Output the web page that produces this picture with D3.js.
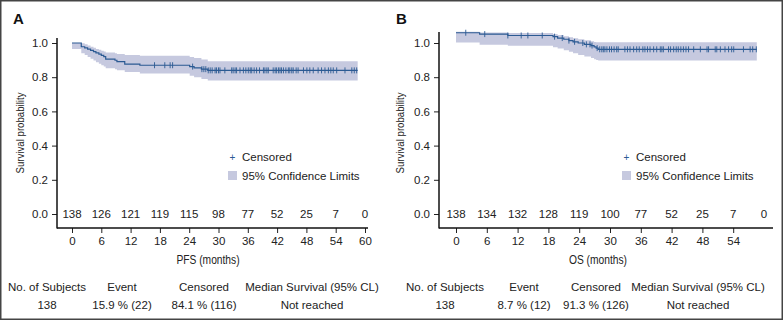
<!DOCTYPE html>
<html><head><meta charset="utf-8">
<script src="https://cdn.jsdelivr.net/npm/d3@7"></script>
<style>
body{margin:0;background:#fff;}
svg{display:block;font-family:"Liberation Sans",Arial,Helvetica,sans-serif;}
</style></head>
<body>
<svg id="c" width="783" height="321"></svg>
<script>
// ---------- DATA ----------
const xTicksA = [0,6,12,18,24,30,36,42,48,54,60];
const xTicksB = [0,6,12,18,24,30,36,42,48,54];
const riskTimes = [0,6,12,18,24,30,36,42,48,54,60];
const atRiskA = [138,126,121,119,115,98,77,52,25,7,0];
const atRiskB = [138,134,132,128,119,100,77,52,25,7,0];
const yTicks = [0,0.2,0.4,0.6,0.8,1.0];

// PFS Kaplan-Meier steps (time, survival)
const pfsTime = [0,1.9,2.6,3.2,3.8,4.4,4.9,5.5,6.0,6.5,6.9,8.8,9.2,10.8,13.9,24.1,25.0,26.5,27.8,58.5];
const pfsSurv = [1.0,0.978,0.971,0.964,0.957,0.949,0.942,0.935,0.928,0.920,0.906,0.899,0.891,0.877,0.870,0.862,0.855,0.847,0.840,0.840];
const pfsLower = [0.965,0.940,0.930,0.918,0.908,0.898,0.888,0.878,0.870,0.862,0.852,0.846,0.840,0.830,0.822,0.808,0.800,0.790,0.780,0.780];
const pfsUpper = [1.0,0.998,0.993,0.985,0.978,0.972,0.965,0.960,0.955,0.950,0.945,0.940,0.936,0.930,0.925,0.918,0.912,0.903,0.894,0.894];
const pfsCensor = [16.9,19.0,20.1,20.6,24.7,26.6,27.0,27.4,27.9,28.3,28.7,29.3,29.6,30.0,30.3,31.3,32.7,33.0,33.4,33.7,34.4,35.1,35.6,36.1,36.5,36.8,37.3,37.8,38.4,39.2,39.5,39.9,40.2,41.2,41.6,41.9,42.3,42.6,42.9,43.3,43.8,44.3,44.6,45.0,45.3,45.9,46.3,47.4,48.1,48.7,49.4,50.4,51.1,51.8,52.5,53.0,53.5,54.2,55.9,57.3,57.8,58.3];

// OS Kaplan-Meier steps (time, survival)
const osTime = [0,4.6,10.1,18.9,19.8,21.0,22.0,22.8,23.8,25.0,26.3,26.9,27.3,27.7,58.6];
const osSurv = [1.06,1.052,1.044,1.037,1.029,1.022,1.014,1.007,1.000,0.992,0.985,0.977,0.970,0.963,0.963];
const osLower = [1.003,0.990,0.984,0.975,0.968,0.958,0.949,0.940,0.930,0.921,0.912,0.905,0.900,0.897,0.897];
const osUpper = [1.066,1.062,1.058,1.052,1.047,1.040,1.034,1.028,1.022,1.016,1.010,1.006,1.005,1.004,1.004];
const osCensor = [1.9,5.6,10.1,12.7,14.0,16.8,19.2,20.7,22.0,23.1,24.7,25.4,26.1,26.5,27.5,28.0,28.4,28.7,29.0,29.4,29.9,30.3,30.8,31.3,31.6,32.9,33.4,33.9,34.6,35.2,35.7,36.4,36.8,37.3,37.8,38.5,39.1,39.8,40.1,40.4,41.4,41.8,42.4,42.9,43.3,43.8,44.3,44.8,45.3,46.3,47.6,48.9,49.2,50.5,50.8,51.5,52.4,53.1,53.7,54.1,56.0,57.3,57.8,58.5];

const tableHeaders = ["No. of Subjects","Event","Censored","Median Survival (95% CL)"];
const tableA = ["138","15.9 % (22)","84.1 % (116)","Not reached"];
const tableB = ["138","8.7 % (12)","91.3 % (126)","Not reached"];

// ---------- DRAW ----------
const svg = d3.select("#c");
const LINE = "#2b5a93", BAND = "#c6c9df", TXT = "#222";

svg.append("rect").attr("x",0.75).attr("y",0.75).attr("width",781.5).attr("height",318.5)
  .attr("fill","none").attr("stroke","#444").attr("stroke-width",1.5);

function panel(o){
  const g = svg.append("g");
  const x = d3.scaleLinear().domain([0,60]).range([o.x0,o.x60]);
  const y = d3.scaleLinear().domain([0,1]).range([214,43]);

  g.append("text").text(o.letter).attr("x",o.letterX).attr("y",24)
    .attr("font-size",15).attr("font-weight","bold").attr("fill","#111");

  const rows = o.time.map((t,i)=>({t,s:o.surv[i],lo:o.lower[i],hi:o.upper[i]}));
  g.append("path").datum(rows)
    .attr("d", d3.area().curve(d3.curveStepAfter).x(d=>x(d.t)).y0(d=>y(d.lo)).y1(d=>y(d.hi)))
    .attr("fill",BAND);
  g.append("path").datum(rows)
    .attr("d", d3.line().curve(d3.curveStepAfter).x(d=>x(d.t)).y(d=>y(d.s)))
    .attr("fill","none").attr("stroke",LINE).attr("stroke-width",1.2);
  const bis = d3.bisector(d=>d.t).right;
  g.append("g").selectAll("line").data(o.censor).join("line")
    .attr("x1",d=>x(d)).attr("x2",d=>x(d))
    .attr("y1",d=>y(rows[Math.max(0,bis(rows,d)-1)].s)-3)
    .attr("y2",d=>y(rows[Math.max(0,bis(rows,d)-1)].s)+3)
    .attr("stroke",LINE).attr("stroke-width",0.9);

  const ya = g.append("g").attr("transform",`translate(${o.axX},0)`)
    .call(d3.axisLeft(y).tickValues(yTicks).tickFormat(d3.format(".1f")).tickSize(5).tickPadding(4).tickSizeOuter(0));
  ya.select(".domain").remove();
  ya.selectAll("text").attr("font-size",11.5).attr("fill",TXT).attr("font-family","Liberation Sans, Arial, sans-serif");
  ya.selectAll("line").attr("stroke","#222");
  g.append("line").attr("x1",o.axX).attr("x2",o.axX).attr("y1",o.yTop).attr("y2",228.5)
    .attr("stroke","#111").attr("stroke-width",1.5);

  const xa = g.append("g").attr("transform","translate(0,228)")
    .call(d3.axisBottom(x).tickValues(o.xTicks).tickSize(5).tickPadding(4).tickSizeOuter(0));
  xa.select(".domain").remove();
  xa.selectAll("text").attr("font-size",11.5).attr("fill",TXT).attr("font-family","Liberation Sans, Arial, sans-serif");
  xa.selectAll("line").attr("stroke","#222");
  g.append("line").attr("x1",o.axX).attr("x2",o.xEnd).attr("y1",228).attr("y2",228)
    .attr("stroke","#111").attr("stroke-width",1.5);

  g.append("g").selectAll("text").data(o.risk).join("text")
    .attr("x",(d,i)=>x(riskTimes[i])).attr("y",218).attr("text-anchor","middle")
    .attr("font-size",11.5).attr("fill",TXT).text(d=>d);

  g.append("text").text(o.xTitle)
    .attr("transform",`translate(${o.xTitleX},264) scale(0.82,1)`)
    .attr("text-anchor","middle").attr("font-size",12.5).attr("fill",TXT);
  g.append("text").text("Survival probability")
    .attr("transform",`translate(${o.yTitleX},133) rotate(-90) scale(0.84,1)`)
    .attr("text-anchor","middle").attr("font-size",11.5).attr("fill",TXT);

  g.append("text").text("+").attr("x",o.legX+4.5).attr("y",161).attr("text-anchor","middle")
    .attr("font-size",10).attr("fill",LINE);
  g.append("text").text("Censored").attr("x",o.legX+14).attr("y",161)
    .attr("font-size",11.5).attr("fill",TXT);
  g.append("rect").attr("x",o.legX).attr("y",171).attr("width",9).attr("height",9).attr("fill",BAND);
  g.append("text").text("95% Confidence Limits").attr("x",o.legX+14).attr("y",179.5)
    .attr("font-size",11.5).attr("fill",TXT);

  o.cols.forEach((cx,i)=>{
    g.append("text").text(tableHeaders[i]).attr("x",cx).attr("y",291)
      .attr("text-anchor","middle").attr("font-size",11.5).attr("fill",TXT);
    g.append("text").text(o.table[i]).attr("x",cx).attr("y",309)
      .attr("text-anchor","middle").attr("font-size",11.5).attr("fill",TXT);
  });
}

panel({letter:"A",letterX:13,x0:72,x60:365,axX:57,yTop:38,xEnd:368,xTicks:xTicksA,
  time:pfsTime,surv:pfsSurv,lower:pfsLower,upper:pfsUpper,censor:pfsCensor,risk:atRiskA,
  xTitle:"PFS (months)",xTitleX:208,yTitleX:24,legX:228,cols:[47,122,204,312],table:tableA});
panel({letter:"B",letterX:396,x0:456,x60:764,axX:439,yTop:32,xEnd:773,xTicks:xTicksB,
  time:osTime,surv:osSurv,lower:osLower,upper:osUpper,censor:osCensor,risk:atRiskB,
  xTitle:"OS (months)",xTitleX:598,yTitleX:404,legX:622,cols:[445,524,596,698],table:tableB});
</script>
</body></html>
